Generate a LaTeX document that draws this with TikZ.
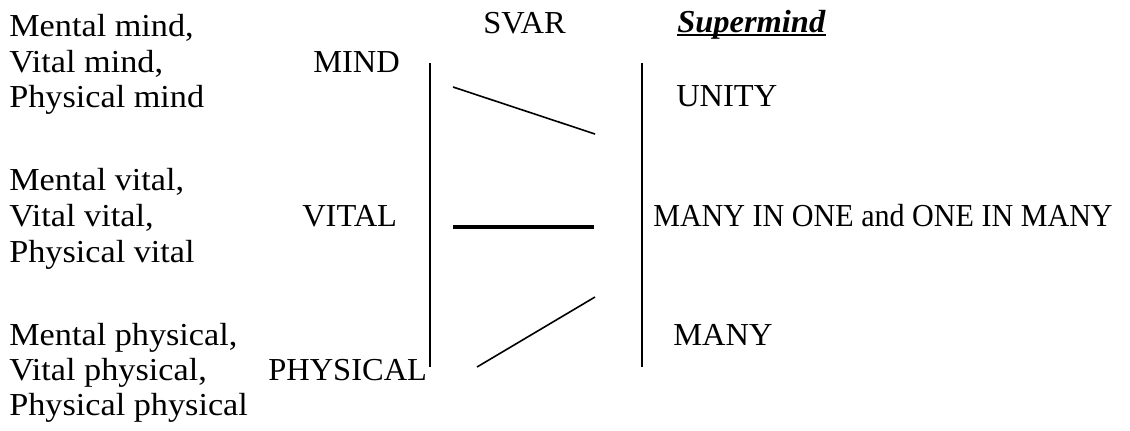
\documentclass[tikz,border=0pt]{standalone}
\usepackage{fontspec}
\setmainfont[FakeStretch=1.015]{Liberation Serif}
\newfontfamily\lcfont[FakeStretch=1.07]{Liberation Serif}
\newfontfamily\nrfont[FakeStretch=0.94]{Liberation Serif}
\begin{document}
\begin{tikzpicture}[x=0.75pt,y=-0.75pt,
  txt/.style={anchor=base west,inner sep=0pt,font=\fontsize{24}{26}\selectfont},
  lc/.style={txt,font=\fontsize{24}{26}\lcfont},
  thin/.style={line width=1.2pt},
  thick/.style={line width=2.8pt}]
\useasboundingbox (0,0) rectangle (1130,430);
% left column
\node[lc] (mm) at (9,36) {Mental mind,};
\node[lc] (vm) at (9,72) {Vital mind,};
\node[lc] (pm) at (9,107) {Physical mind};
\node[lc] (mv) at (9,190) {Mental vital,};
\node[lc] (vv) at (9,226) {Vital vital,};
\node[lc] (pv) at (9,262) {Physical vital};
\node[lc] (mp) at (9,345) {Mental physical,};
\node[lc] (vp) at (9,380) {Vital physical,};
\node[lc] (pp) at (9,415) {Physical physical};
% level labels
\node[txt] (mind) at (313,72) {MIND};
\node[txt] (vital) at (302,226) {VITAL};
\node[txt] (phys) at (268,380) {PHYSICAL};
% headings
\node[txt] (svar) at (483,33) {SVAR};
\node[txt] (sup) at (677,32) {\textbf{\textit{Supermind}}};
\draw[line width=1.2pt] ([yshift=-2.4pt]sup.base west) -- ([yshift=-2.4pt]sup.base east);
% right labels
\node[txt] (unity) at (676,106) {UNITY};
\node[txt,font=\fontsize{24}{26}\nrfont] (mio) at (653,226) {MANY IN ONE and ONE IN MANY};
\node[txt] (many) at (673,345) {MANY};
% vertical bars
\coordinate (l1) at (430,63); \coordinate (l2) at (430,367);
\coordinate (r1) at (642,63); \coordinate (r2) at (642,367);
\draw[thin] (l1) -- (l2);
\draw[thin] (r1) -- (r2);
% middle strokes
\coordinate (a1) at (453,87); \coordinate (a2) at (595,134);
\coordinate (b1) at (453,227); \coordinate (b2) at (594,227);
\coordinate (c1) at (477,367); \coordinate (c2) at (595,297);
\draw[thin] (a1) -- (a2);
\draw[thick] (b1) -- (b2);
\draw[thin] (c1) -- (c2);
\end{tikzpicture}
\end{document}
